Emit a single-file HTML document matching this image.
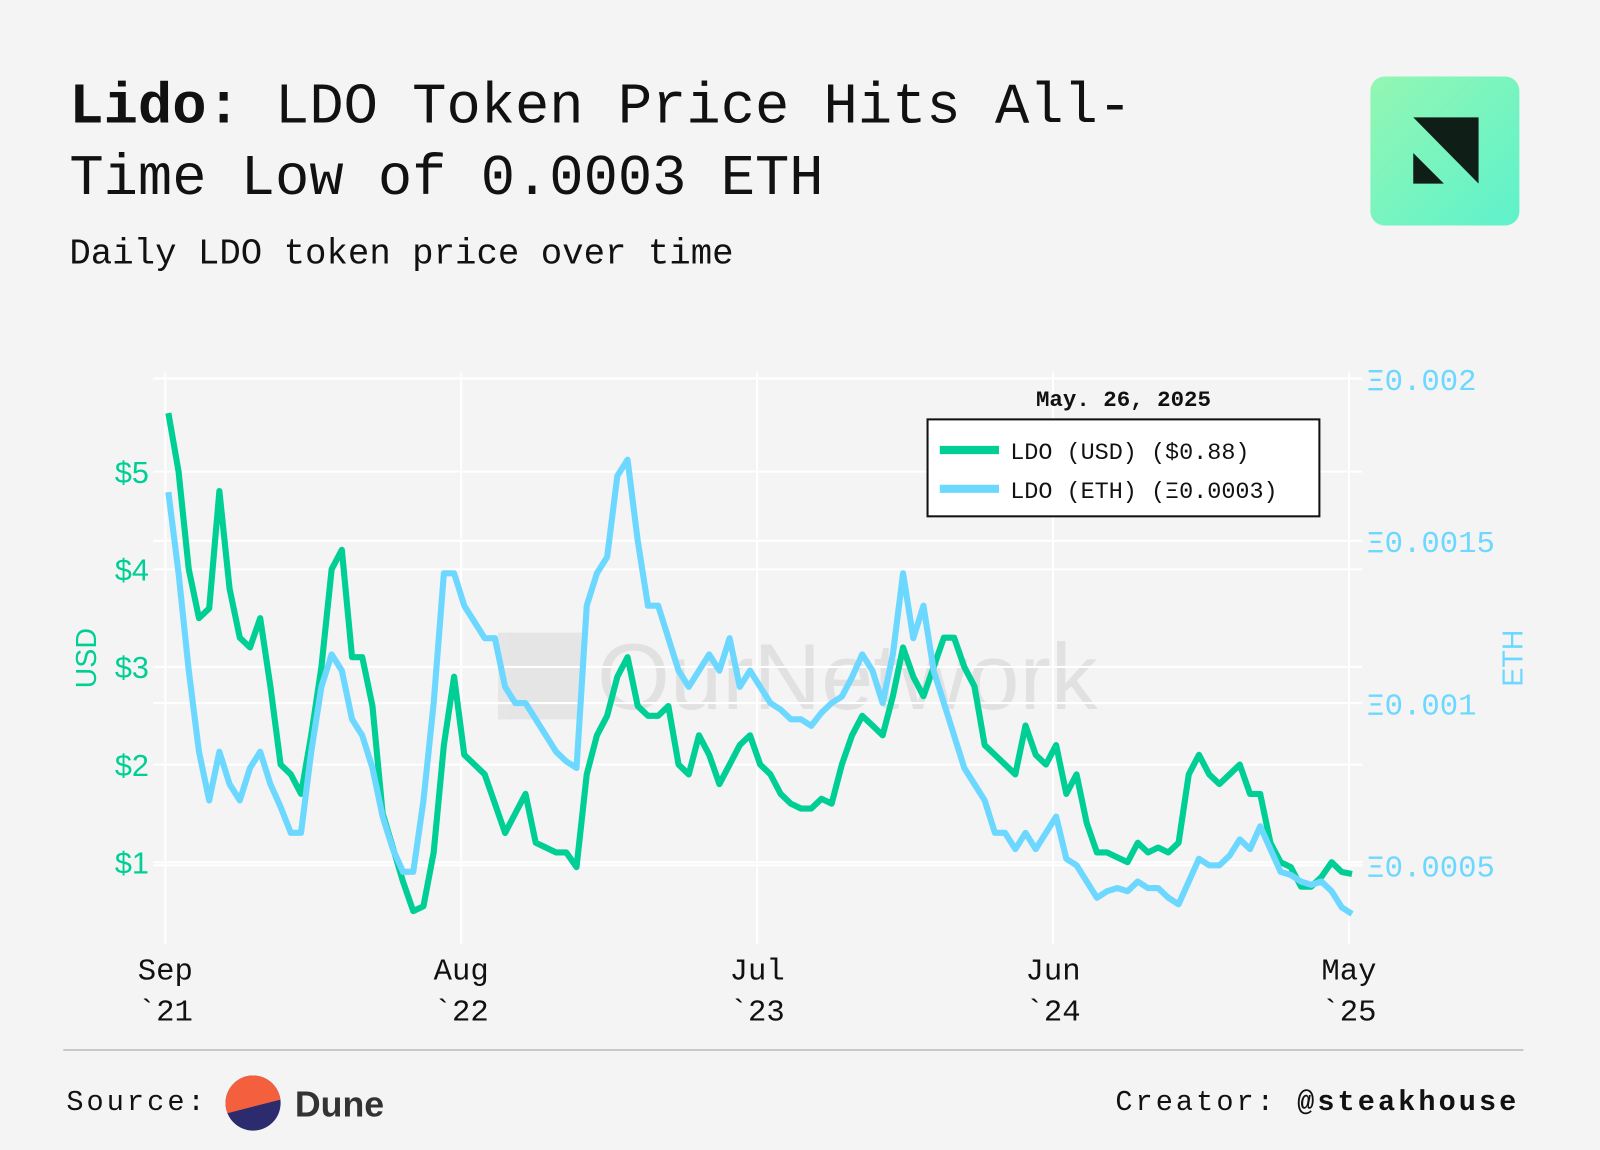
<!DOCTYPE html>
<html><head><meta charset="utf-8"><style>
html,body{margin:0;padding:0;background:#f4f4f4;}
svg{display:block;}
</style></head><body>
<svg id="chart" width="1600" height="1150" viewBox="0 0 1568 1127" preserveAspectRatio="none" xmlns="http://www.w3.org/2000/svg">
<defs>
<linearGradient id="lg" x1="0" y1="0" x2="1" y2="1"><stop offset="0" stop-color="#93f7b2"/><stop offset="1" stop-color="#5ef2cc"/></linearGradient>
<clipPath id="dclip"><circle cx="248" cy="1081" r="27"/></clipPath>
</defs>
<rect width="1568" height="1127" fill="#f4f4f4"/>
<text x="68" y="120" font-family="Liberation Mono, monospace" font-size="56" fill="#111"><tspan font-weight="bold">Lido:</tspan> LDO Token Price Hits All-</text>
<text x="68" y="190" font-family="Liberation Mono, monospace" font-size="56" fill="#111">Time Low of 0.0003 ETH</text>
<text x="68" y="258" font-family="Liberation Mono, monospace" font-size="35" fill="#111">Daily LDO token price over time</text>
<g>
<rect x="1343" y="75" width="146" height="146" rx="14" fill="url(#lg)"/>
<polygon points="1385,115 1449,115 1449,180" fill="#0f1e17"/>
<polygon points="1385,150 1385,180 1415,180" fill="#0f1e17"/>
</g>
<g opacity="0.09">
<polygon points="488,620 570,620 570,705 488,705" fill="#555"/>
<text x="585" y="695" font-family="Liberation Sans, sans-serif" font-size="92" fill="#333">OurNetwork</text>
</g>
<g id="grid"></g>
<g id="lines"></g>
<g id="axes"></g>
<text transform="translate(94,645) rotate(-90)" text-anchor="middle" font-family="Liberation Sans, sans-serif" font-size="28" fill="#00cf95">USD</text>
<text transform="translate(1492,645) rotate(-90)" text-anchor="middle" font-family="Liberation Sans, sans-serif" font-size="28" fill="#6dd8ff">ETH</text>
<g>
<text x="1101" y="398" text-anchor="middle" font-family="Liberation Mono, monospace" font-size="22" font-weight="bold" fill="#111">May. 26, 2025</text>
<rect x="909" y="411" width="384" height="95" fill="#fff" stroke="#111" stroke-width="2"/>
<g><line x1="921" y1="441" x2="979" y2="441" stroke="#00cf95" stroke-width="8"/>
<text x="990" y="450" font-family="Liberation Mono, monospace" font-size="23" fill="#111">LDO (USD) ($0.88)</text></g>
<g><line x1="921" y1="479" x2="979" y2="479" stroke="#6dd8ff" stroke-width="8"/>
<text x="990" y="488" font-family="Liberation Mono, monospace" font-size="23" fill="#111">LDO (ETH) (Ξ0.0003)</text></g>
</g>
<line x1="62" y1="1029" x2="1493" y2="1029" stroke="#c8c8c8" stroke-width="2"/>
<text x="65" y="1088" font-family="Liberation Mono, monospace" font-size="28" letter-spacing="3" fill="#111">Source:</text>
<g>
<g clip-path="url(#dclip)"><rect x="215" y="1050" width="70" height="70" fill="#2b2b6e"/><polygon points="215,1050 285,1050 285,1075 215,1093" fill="#f4603e"/></g>
<text x="289" y="1094" font-family="Liberation Sans, sans-serif" font-size="35" font-weight="bold" fill="#333">Dune</text>
</g>
<text x="1489" y="1088" text-anchor="end" font-family="Liberation Mono, monospace" font-size="28" letter-spacing="3" fill="#111">Creator: <tspan font-weight="bold">@steakhouse</tspan></text>
</svg>
<script>
const usdValues=[5.6,5.0,4.0,3.5,3.6,4.8,3.8,3.3,3.2,3.5,2.8,2.0,1.9,1.7,2.3,3.0,4.0,4.2,3.1,3.1,2.6,1.5,1.15,0.8,0.5,0.55,1.1,2.2,2.9,2.1,2.0,1.9,1.6,1.3,1.5,1.7,1.2,1.15,1.1,1.1,0.95,1.9,2.3,2.5,2.9,3.1,2.6,2.5,2.5,2.6,2.0,1.9,2.3,2.1,1.8,2.0,2.2,2.3,2.0,1.9,1.7,1.6,1.55,1.55,1.65,1.6,2.0,2.3,2.5,2.4,2.3,2.7,3.2,2.9,2.7,3.0,3.3,3.3,3.0,2.8,2.2,2.1,2.0,1.9,2.4,2.1,2.0,2.2,1.7,1.9,1.4,1.1,1.1,1.05,1.0,1.2,1.1,1.15,1.1,1.2,1.9,2.1,1.9,1.8,1.9,2.0,1.7,1.7,1.2,1.0,0.95,0.75,0.75,0.85,1.0,0.9,0.88];
const ethValues=[0.00165,0.0014,0.0011,0.00085,0.0007,0.00085,0.00075,0.0007,0.0008,0.00085,0.00075,0.00068,0.0006,0.0006,0.00085,0.00105,0.00115,0.0011,0.00095,0.0009,0.0008,0.00065,0.00055,0.00048,0.00048,0.0007,0.001,0.0014,0.0014,0.0013,0.00125,0.0012,0.0012,0.00105,0.001,0.001,0.00095,0.0009,0.00085,0.00082,0.0008,0.0013,0.0014,0.00145,0.0017,0.00175,0.0015,0.0013,0.0013,0.0012,0.0011,0.00105,0.0011,0.00115,0.0011,0.0012,0.00105,0.0011,0.00105,0.001,0.00098,0.00095,0.00095,0.00093,0.00097,0.001,0.00102,0.00108,0.00115,0.0011,0.001,0.00115,0.0014,0.0012,0.0013,0.0011,0.001,0.0009,0.0008,0.00075,0.0007,0.0006,0.0006,0.00055,0.0006,0.00055,0.0006,0.00065,0.00052,0.0005,0.00045,0.0004,0.00042,0.00043,0.00042,0.00045,0.00043,0.00043,0.0004,0.00038,0.00045,0.00052,0.0005,0.0005,0.00053,0.00058,0.00055,0.00062,0.00055,0.00048,0.00047,0.00045,0.00044,0.00045,0.00042,0.00037,0.00035];
const xTickLabels=[["Sep","`21"],["Aug","`22"],["Jul","`23"],["Jun","`24"],["May","`25"]];
const xTickPos=[0,0.25,0.5,0.75,1];
const usdTicks=[1,2,3,4,5];
const ethTicks=[0.0005,0.001,0.0015,0.002];
const ethTickLabels=["Ξ0.0005","Ξ0.001","Ξ0.0015","Ξ0.002"];

const NS="http://www.w3.org/2000/svg";
const n=usdValues.length;
function xScale(i){return 165+i*(1325-165)/(n-1);}
function xFrac(f){return 162+f*(1322-162);}
function yUSD(v){return 845-(v-1)*95.7;}
function yETH(v){return 848-(v-0.0005)*318000;}
function mk(tag,attrs,parent){const e=document.createElementNS(NS,tag);for(const k in attrs)e.setAttribute(k,attrs[k]);parent.appendChild(e);return e;}
const grid=document.getElementById('grid'),lines=document.getElementById('lines'),axes=document.getElementById('axes');
xTickPos.forEach((f,i)=>{
  const l=mk('line',{x1:xFrac(f),x2:xFrac(f),y1:365,y2:925,stroke:'#fff','stroke-width':2},grid);
  
  
  const t=mk('text',{x:xFrac(f),y:960,'text-anchor':'middle','font-family':'Liberation Mono, monospace','font-size':30,fill:'#111'},axes);
  
  
  const s1=mk('tspan',{x:xFrac(f),dy:0},t);s1.textContent=xTickLabels[i][0];
  const s2=mk('tspan',{x:xFrac(f),dy:40},t);s2.textContent=xTickLabels[i][1];
});
usdTicks.forEach(v=>{
  const l=mk('line',{x1:150,x2:1335,y1:yUSD(v),y2:yUSD(v),stroke:'#fff','stroke-width':2},grid);
  
  
  const t=mk('text',{x:146,y:yUSD(v)+11,'text-anchor':'end','font-family':'Liberation Sans, sans-serif','font-size':30,fill:'#00cf95'},axes);
  
  
  t.textContent='$'+v;
});
ethTicks.forEach((v,i)=>{
  const l=mk('line',{x1:150,x2:1335,y1:yETH(v),y2:yETH(v),stroke:'#fff','stroke-width':2},grid);
  
  
  const t=mk('text',{x:1339,y:yETH(v)+11,'font-family':'Liberation Mono, monospace','font-size':30,fill:'#6dd8ff'},axes);
  
  
  t.textContent=ethTickLabels[i];
});
function path(vals,ys){return vals.map((v,i)=>(i?'L':'M')+xScale(i).toFixed(1)+','+ys(v).toFixed(1)).join(' ');}
const pu=mk('path',{d:path(usdValues,yUSD),fill:'none',stroke:'#00cf95','stroke-width':6,'stroke-linejoin':'round'},lines);


const pe=mk('path',{d:path(ethValues,yETH),fill:'none',stroke:'#6dd8ff','stroke-width':6,'stroke-linejoin':'round'},lines);


</script>
</body></html>
